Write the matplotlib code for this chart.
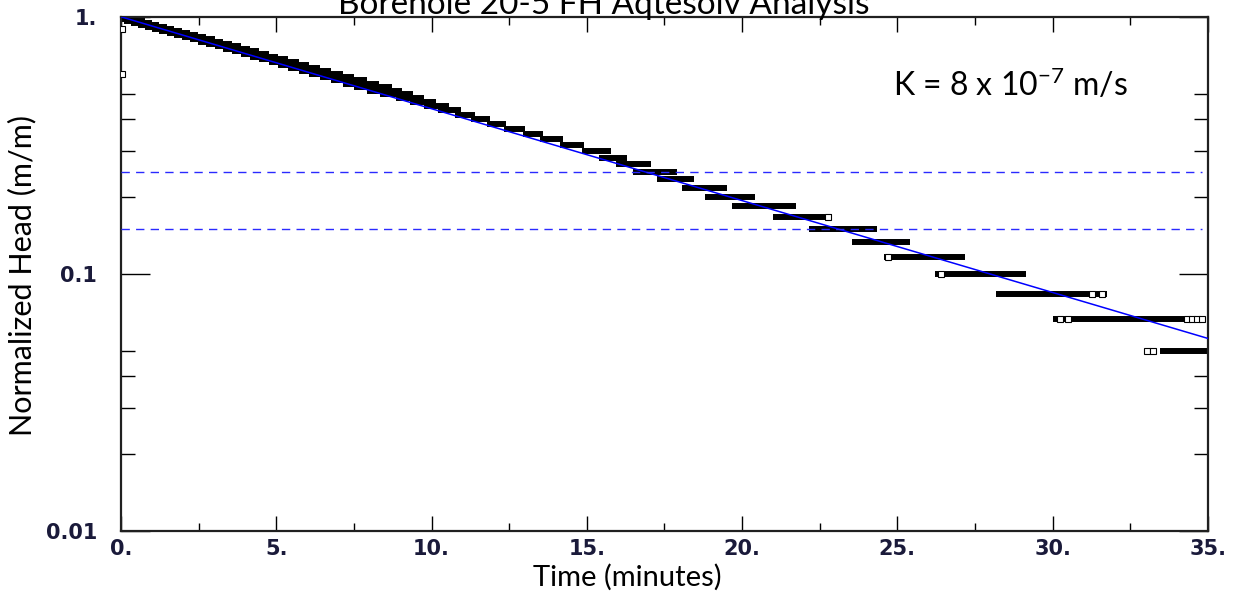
import numpy as np
import matplotlib
matplotlib.use("Agg")
import matplotlib.pyplot as plt

plt.rcParams['font.family'] = ['Lato', 'DejaVu Sans']
plt.rcParams['mathtext.default'] = 'regular'

# quantized normalized head levels (counts of 1/60)
head_counts = [60, 59, 58, 57, 56, 55, 54, 53, 52, 51, 50, 49, 48, 47, 46, 45,
               44, 43, 42, 41, 40, 39, 38, 37, 36, 35, 34, 33, 32, 31, 30, 29,
               28, 27, 26, 25, 24, 23, 22, 21, 20, 19, 18, 17, 16, 15, 14, 13,
               12, 11, 10, 9, 8, 7, 6, 5, 4, 3]
# time span (minutes) over which each level was logged
t_start = [0.00, 0.00, 0.108, 0.327, 0.549, 0.775, 1.006, 1.240, 1.479, 1.723,
           1.971, 2.224, 2.482, 2.745, 3.014, 3.288, 3.569, 3.855, 4.148, 4.448,
           4.756, 5.070, 5.393, 5.723, 6.063, 6.412, 6.770, 7.139, 7.518, 7.909,
           8.35, 8.85, 9.30, 9.75, 10.20, 10.75, 11.28, 11.78, 12.33, 12.93,
           13.50, 14.15, 14.85, 15.40, 15.95, 16.50, 17.25, 18.05, 18.82, 19.69,
           21.01, 22.14, 23.53, 24.57, 26.20, 28.16, 30.02, 33.45]
t_end = [0.327, 0.549, 0.775, 1.006, 1.240, 1.479, 1.723, 1.971, 2.224, 2.482,
         2.745, 3.014, 3.288, 3.569, 3.855, 4.148, 4.448, 4.756, 5.070, 5.393,
         5.723, 6.063, 6.412, 6.770, 7.139, 7.518, 7.909, 8.312, 8.729, 9.05,
         9.40, 9.75, 10.15, 10.55, 10.95, 11.40, 11.88, 12.40, 13.02, 13.58,
         14.22, 14.92, 15.78, 16.30, 17.07, 17.90, 18.45, 19.53, 20.43, 21.72,
         22.88, 24.33, 25.40, 27.18, 29.13, 31.74, 34.90, 35.00]

# isolated readings (show as open squares)
iso_t = [0.05, 0.05, 22.77, 24.69, 26.39, 30.23, 30.50, 31.26, 31.60,
         33.05, 33.22, 34.33, 34.49, 34.65, 34.82]
iso_counts = [54, 36, 10, 7, 6, 4, 4, 5, 5, 3, 3, 4, 4, 4, 4]

# fitted solution
fit_t = [0.0, 35.0]
fit_h = [1.0, 0.0561]

ref_levels = [0.25, 0.15]

x_ticks = [0, 5, 10, 15, 20, 25, 30, 35]
x_labels = ['0.', '5.', '10.', '15.', '20.', '25.', '30.', '35.']
y_ticks = [0.01, 0.1, 1.0]
y_labels = ['0.01', '0.1', '1.']
y_minor = [0.02, 0.03, 0.04, 0.05, 0.2, 0.3, 0.4, 0.5]

levels = np.array(head_counts) / 60.0
iso_h = np.array(iso_counts) / 60.0

fig = plt.figure(figsize=(12.43, 6.0), dpi=100)
ax = fig.add_axes([0.0973, 0.115, 0.8745, 0.857])

ax.hlines(levels, t_start, t_end, colors='black', linewidth=4.3, zorder=2)
ax.plot(iso_t, iso_h, linestyle='none', marker='s', markersize=3.8,
        markerfacecolor='white', markeredgecolor='black', markeredgewidth=0.8,
        zorder=3)
ax.plot(fit_t, fit_h, color='#0000ff', linewidth=1.1, zorder=4)
for lv in ref_levels:
    ax.plot([0, 34.8], [lv, lv], color='#2a2aff', linewidth=1.0,
            dashes=(6, 4.5), zorder=5)

ax.set_yscale('log')
ax.set_xlim(0, 35)
ax.set_ylim(0.01, 1.0)

ax.set_xticks(x_ticks)
ax.set_xticklabels(x_labels)
ax.set_xticks(np.array([2.5, 7.5, 12.5, 17.5, 22.5, 27.5, 32.5]), minor=True)
ax.set_yticks(y_ticks)
ax.set_yticklabels(y_labels)
ax.set_yticks(y_minor, minor=True)
ax.yaxis.set_minor_formatter(matplotlib.ticker.NullFormatter())

for lab in ax.get_xticklabels() + ax.get_yticklabels():
    lab.set_family('DejaVu Sans')
    lab.set_fontsize(15)
    lab.set_fontweight('bold')
    lab.set_color('#1a1a3a')

ax.tick_params(axis='x', which='major', direction='in', length=11, width=1.0,
               top=True, bottom=True, pad=6)
ax.tick_params(axis='x', which='minor', direction='in', length=6, width=1.0,
               top=True, bottom=True)
ax.tick_params(axis='y', which='major', direction='in', length=21, width=1.0,
               left=True, right=True, pad=17)
ax.tick_params(axis='y', which='minor', direction='in', length=10, width=1.0,
               left=True, right=True)

for sp in ax.spines.values():
    sp.set_linewidth(1.6)
    sp.set_color('#202020')

ax.text(24.85, 0.49, 'K = 8 x 10$^{-7}$ m/s', fontsize=23, color='black',
        va='baseline', ha='left')

fig.text(0.486, 0.977, 'Borehole 20-5 FH Aqtesolv Analysis', fontsize=24,
         ha='center', va='baseline')
fig.text(0.505, 0.038, 'Time (minutes)', fontsize=21, ha='center', va='center')
fig.text(0.018, 0.54, 'Normalized Head (m/m)', fontsize=22, ha='center',
         va='center', rotation=90)

fig.savefig('out.png', dpi=100)
